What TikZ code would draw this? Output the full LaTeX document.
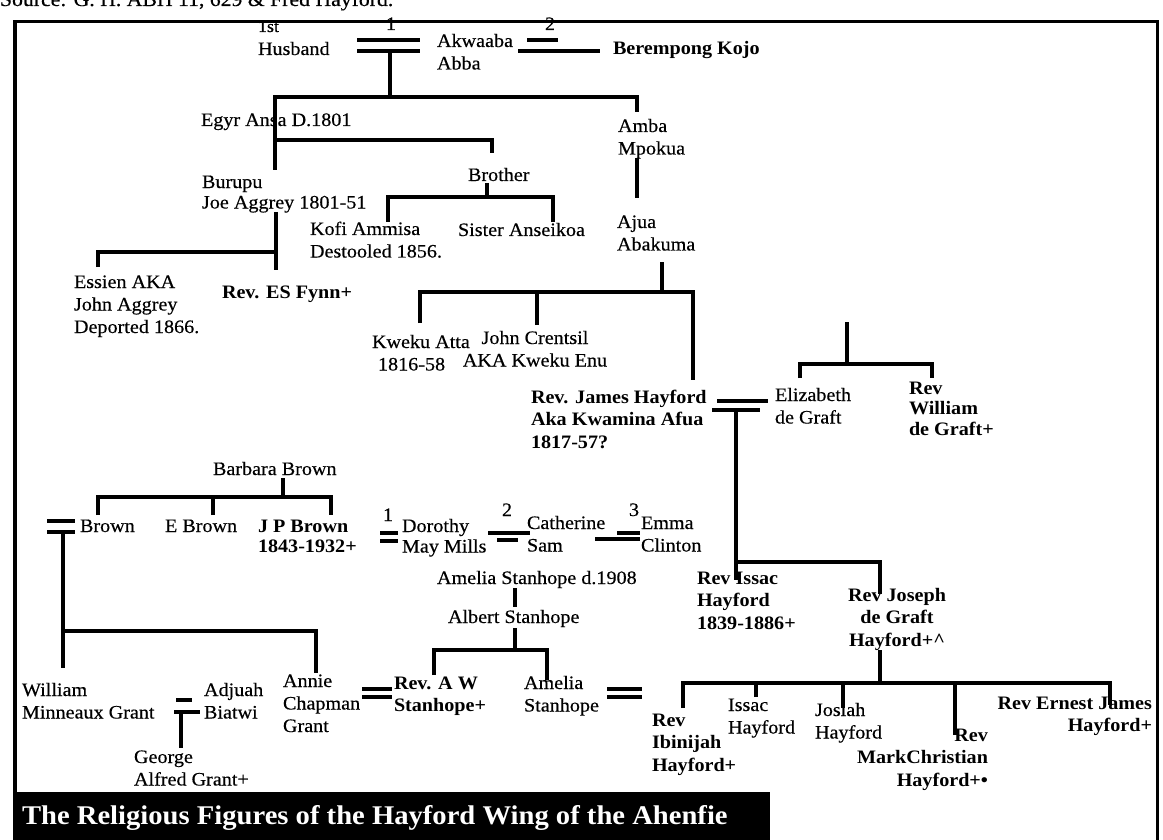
\documentclass[tikz,border=0pt]{standalone}
\usepackage{fontspec}
\setmainfont{Liberation Serif}[FakeStretch=1.06, UprightFeatures={FakeBold=0.4}]

\newcommand\kinsize{\fontsize{19}{22.5}\selectfont}
\newcommand\kintight{\fontsize{19}{20.5}\selectfont}

\begin{document}
\begin{tikzpicture}[
  x=1pt,
  y=-1pt,
  inner sep=0pt,
  outer sep=0pt,
  line width=3.1pt,
  kin/.style={anchor=base west, align=left, font=\kinsize},
  rev/.style={kin, font=\kinsize\bfseries},
  wed/.style={line width=3.5pt},
]
  \useasboundingbox (0,0) rectangle (1163,840);

  \node[kin, font=\fontsize{20.5}{22}\selectfont] (source) at (0,6) {Source: G. H. ABH 11, 629 \& Fred Hayford.};
  \draw[line width=3pt] (14,840) -- (14,22) -- (1157,22) -- (1157,840);
  \draw[line width=4pt] (15,22) -- (15,840);

  % top of the tree
  \node[kin, font=\fontsize{17}{18}\selectfont] (first) at (258,32) {1st};
  \node[kin] (husband) at (258,55) {Husband};
  \node[kin] (akwaaba) at (437,69.5) {Akwaaba\\Abba};
  \node[rev] (kojo) at (613,55) {Berempong Kojo};
  \node[kin] (one) at (386,30) {1};
  \node[kin] (two) at (545,30) {2};
  \node[kin] (egyrn) at (201,126) {Egyr Ansa D.1801};
  \node[kin, font=\kintight] (burupu) at (202,208.5) {Burupu\\Joe Aggrey 1801-51};
  \node[kin] (brothern) at (468,181) {Brother};
  \node[kin] (kofin) at (310,257.5) {Kofi Ammisa\\Destooled 1856.};
  \node[kin] (sistern) at (458,236) {Sister Anseikoa};
  \node[kin] (amban) at (618,154.5) {Amba\\Mpokua};
  \node[kin] (ajuan) at (617,250.5) {Ajua\\Abakuma};
  \node[kin] (essienn) at (74,333) {Essien AKA\\John Aggrey\\Deported 1866.};
  \node[rev] (fynnn) at (222,298) {Rev. ES Fynn+};
  \node[kin] (kwekun) at (372,370.5) {Kweku Atta\\\hspace*{6pt}1816-58};
  \node[kin, anchor=base, align=center] (johnn) at (535,366.5) {John Crentsil\\AKA Kweku Enu};
  \node[rev] (jamesn) at (531,448) {Rev. James Hayford\\Aka Kwamina Afua\\1817-57?};
  \node[kin] (elizn) at (775,423.5) {Elizabeth\\de Graft};
  \node[rev, font=\kintight\bfseries] (wdgn) at (909,435) {Rev\\William\\de Graft+};

  % the Brown side
  \node[kin] (barbaran) at (213,475) {Barbara Brown};
  \node[kin] (brownn) at (80,532) {Brown};
  \node[kin] (ebrownn) at (165,532) {E Brown};
  \node[rev, font=\kintight\bfseries] (jpbn) at (258,552.5) {J P Brown\\1843-1932+};
  \node[kin] (onejp) at (383,521) {1};
  \node[kin, font=\kintight] (dorothyn) at (402,552.5) {Dorothy\\May Mills};
  \node[kin] (twojp) at (502,516) {2};
  \node[kin] (catherinen) at (527,551.5) {Catherine\\Sam};
  \node[kin] (threejp) at (629,516) {3};
  \node[kin] (emman) at (641,551.5) {Emma\\Clinton};
  \node[kin] (ameliasn) at (437,584) {Amelia Stanhope d.1908};
  \node[kin] (albertn) at (448,623) {Albert Stanhope};
  \node[rev] (rawn) at (394,711.5) {Rev. A W\\Stanhope+};
  \node[kin] (amelian) at (524,711.5) {Amelia\\Stanhope};
  \node[kin] (annien) at (283,732) {Annie\\Chapman\\Grant};
  \node[kin] (williamn) at (22,718.5) {William\\Minneaux Grant};
  \node[kin] (adjuahn) at (204,718.5) {Adjuah\\Biatwi};
  \node[kin] (georgen) at (134,785.5) {George\\Alfred Grant+};

  % the Hayford side
  \node[rev] (issacn) at (697,629) {Rev Issac\\Hayford\\1839-1886+};
  \node[rev, anchor=base, align=center] (josephn) at (897,646) {Rev Joseph\\de Graft\\Hayford+\textasciicircum};
  \node[rev] (ibin) at (652,771) {Rev\\Ibinijah\\Hayford+};
  \node[kin] (issac2n) at (728,733.5) {Issac\\Hayford};
  \node[kin] (josiahn) at (815,738.5) {Josiah\\Hayford};
  \node[rev, anchor=base east, align=right] (markn) at (988,786) {Rev\\MarkChristian\\Hayford+\textbullet};
  \node[rev, anchor=base east, align=right] (ernestn) at (1152,731.5) {Rev Ernest James\\Hayford+};

  \path
    \foreach \name/\x/\y in {
      w1/390/51, j1/390/97, egyr/275/170, amba/637/112,
      e1/275/140, brother/492/153,
      bro/487/183, b1/487/197, kofi/388/222, sister/553/222,
      mp/637/158, aj/637/198,
      joe/276/212, fynn/276/270, jb/276/252, essien/98/267,
      ab/662/262, abar/662/292, kweku/420/323, john/537/325, james/693/380,
      w3/736/410, hb/736/562, issac/736/580, joseph/880/594,
      dg/847/322, dgb/847/364, eliz/800/378, wdg/932/378,
      bb/283/478, bbb/283/497, brown/98/515, ebrown/213/515, jpb/331/515,
      w0/63/532, gb/63/631, william/63/668, annie/316/673,
      as/515/588, al/515/607, al2/515/628, sb/515/650, raw/434/675, ams/547/680,
      wg/181/712, george/181/748,
      jh/880/650, jhb/880/683, ibi/683/708, iss/756/697, jos/843/708,
      mark/955/735, ern/1110/705%
    } {
      (\x,\y) coordinate (\name)
    }
  ;

  \foreach \name/\xa/\xb/\ya/\xc/\xd/\yb in {
    top1/357/420/40/357/420/51,
    top2/527/558/40/518/600/51,
    brw/47/75/521/47/75/532,
    jp1/380/398/533/380/398/541,
    jp2/488/530/533/497/518/540,
    jp3/617/640/533/595/640/539,
    hay/717/768/401/712/760/410,
    grant/176/192/700/174/200/712,
    chap/362/392/689/362/392/697,
    amst/607/642/689/607/642/697%
  } {
    \draw[wed] (\xa,\ya) coordinate (\name-up) -- (\xb,\ya)
      (\xc,\yb) coordinate (\name-low) -- (\xd,\yb);
  }

  \draw (w1) -- (j1);
  \draw (egyr) |- (amba |- j1) -- (amba);
  \draw (e1) -| (brother);
  \draw (bro) -- (b1);
  \draw (kofi) |- (sister |- b1) -- (sister);
  \draw (mp) -- (aj);
  \draw (joe) -- (fynn);
  \draw (essien) |- (jb);
  \draw (ab) -- (abar);
  \draw (kweku) |- (james |- abar) -- (james);
  \draw (john) -- (john |- abar);
  \draw (w3) -- (issac);
  \draw (hb) -| (joseph);
  \draw (dg) -- (dgb);
  \draw (eliz) |- (wdg |- dgb) -- (wdg);
  \draw (bb) -- (bbb);
  \draw (brown) |- (jpb |- bbb) -- (jpb);
  \draw (ebrown) -- (ebrown |- bbb);
  \draw (w0) -- (william);
  \draw (gb) -| (annie);
  \draw (as) -- (al);
  \draw (al2) -- (sb);
  \draw (raw) |- (ams |- sb) -- (ams);
  \draw (wg) -- (george);
  \draw (jh) -- (jhb);
  \draw (ibi) |- (ern |- jhb) -- (ern);
  \foreach \k in {iss,jos,mark} \draw (\k) -- (\k |- jhb);

  \fill (14,792) rectangle (770,840);
  \node[anchor=base west, text=white, font=\fontsize{27}{30}\selectfont\bfseries] (title) at (22,824) {The Religious Figures of the Hayford Wing of the Ahenfie};
\end{tikzpicture}
\end{document}
